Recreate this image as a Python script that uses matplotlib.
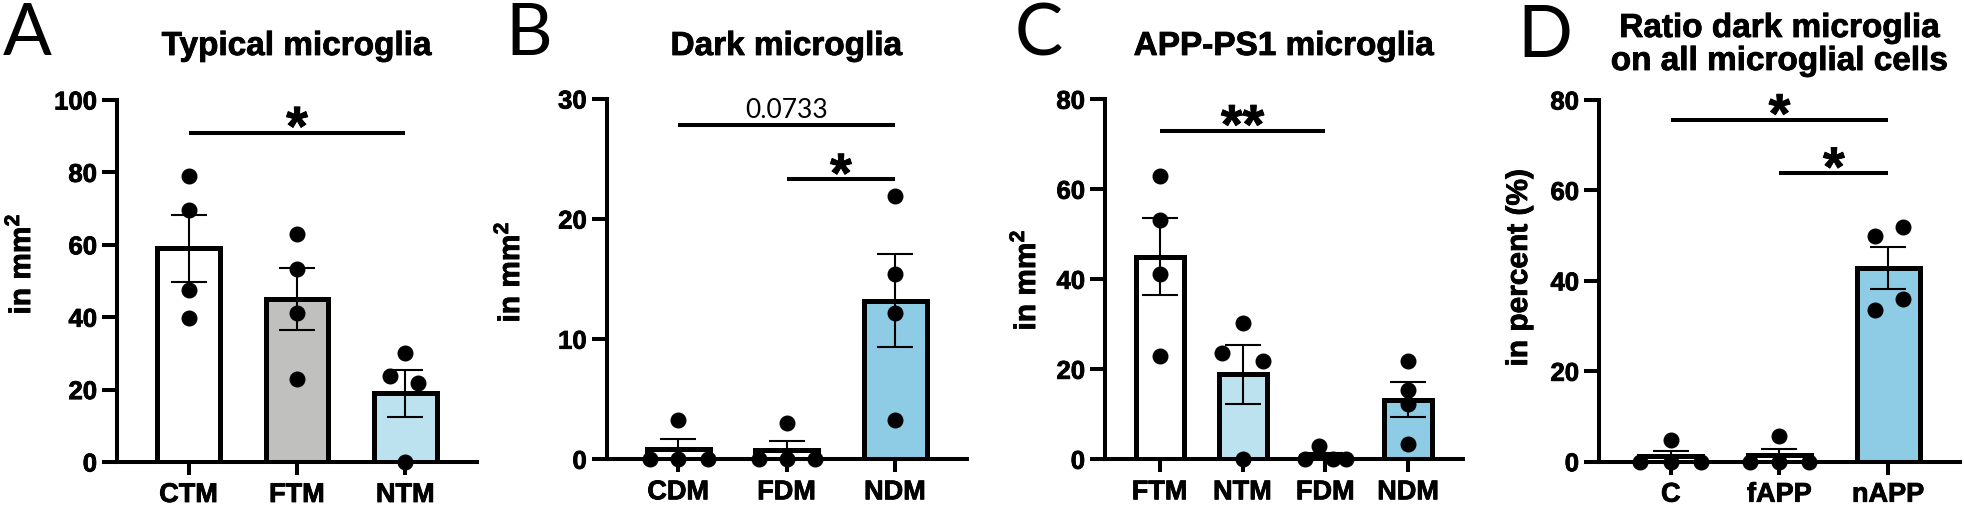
import matplotlib
matplotlib.use('Agg')
import matplotlib.pyplot as plt
import matplotlib.patheffects as pe
import numpy as np

plt.rcParams['font.family'] = ['Liberation Sans', 'DejaVu Sans']
plt.rcParams['font.weight'] = 'bold'
plt.rcParams['mathtext.fontset'] = 'custom'
plt.rcParams['mathtext.rm'] = 'Liberation Sans:bold'
plt.rcParams['mathtext.it'] = 'Liberation Sans:bold'
plt.rcParams['mathtext.bf'] = 'Liberation Sans:bold'

WHITE = '#ffffff'
GRAY = '#c0c0bf'
LIGHT = '#bce2f0'
BLUE = '#8ecbe4'

# slightly heavier bold text, closer to the original export
HEAVY = [pe.withStroke(linewidth=0.6, foreground='black')]

# A - typical microglia
a_groups = ['CTM', 'FTM', 'NTM']
a_values = [[79.1, 69.6, 47.6, 39.8], [62.9, 53.2, 41.2, 22.9], [30.2, 23.7, 21.8, 0.0]]
a_jitter = [[0, 0, 0, 0], [0, 0, 0, 0], [0, -0.14, 0.12, 0]]
a_colors = [WHITE, GRAY, LIGHT]
a_sig = [(0, 2, 91, '*')]

# B - dark microglia
b_groups = ['CDM', 'FDM', 'NDM']
b_values = [[3.3, 0.0, 0.0, 0.0], [3.05, 0.0, 0.0, 0.0], [21.9, 15.4, 12.2, 3.3]]
b_jitter = [[0, -0.26, 0, 0.27], [0, -0.26, 0, 0.26], [0, 0, 0, 0]]
b_colors = [WHITE, WHITE, BLUE]
b_sig = [(0, 2, 27.85, '0.0733'), (1, 2, 23.3, '*')]

# C - APP-PS1 microglia
c_groups = ['FTM', 'NTM', 'FDM', 'NDM']
c_values = [[62.9, 53.2, 41.2, 22.9], [30.2, 23.7, 21.8, 0.0],
            [3.0, 0.0, 0.0, 0.0], [21.9, 15.4, 12.2, 3.3]]
c_jitter = [[0, 0, 0, 0], [0, -0.25, 0.25, 0], [-0.08, -0.25, 0.09, 0.25], [0, 0, 0, 0]]
c_colors = [WHITE, LIGHT, WHITE, BLUE]
c_sig = [(0, 2, 73, '**')]

# D - ratio dark / all microglia
d_groups = ['C', 'fAPP', 'nAPP']
d_values = [[4.8, 0.0, 0.0, 0.0], [5.6, 0.0, 0.0, 0.0], [49.9, 51.9, 35.9, 33.6]]
d_jitter = [[0, -0.28, 0, 0.28], [0, -0.27, 0, 0.27], [-0.12, 0.14, 0.14, -0.12]]
d_colors = [WHITE, WHITE, BLUE]
d_sig = [(0, 2, 75.6, '*'), (1, 2, 63.8, '*')]

W, H = 1965, 508
fig = plt.figure(figsize=(W / 100, H / 100), dpi=100)


def make_axes(left, y0, right, ytop):
    return fig.add_axes([left / W, (H - y0) / H, (right - left) / W, (y0 - ytop) / H])


def draw_panel(ax, groups, values, jitter, colors, ymax, ystep, sigs):
    x = np.arange(len(groups))
    means = [np.mean(v) for v in values]
    sems = [np.std(v, ddof=1) / np.sqrt(len(v)) for v in values]
    ax.bar(x, means, width=0.58, color=colors, edgecolor='black', linewidth=3.6, zorder=2)
    ax.errorbar(x, means, yerr=sems, fmt='none', ecolor='black', elinewidth=1.5,
                capsize=13, capthick=1.5, zorder=3)
    for i, v in enumerate(values):
        ax.plot(i + np.array(jitter[i]), v, 'o', color='black', markersize=10.5,
                clip_on=False, zorder=4)
    for x1, x2, y, lab in sigs:
        ax.plot([x1, x2], [y, y], color='black', lw=2.9, solid_capstyle='butt', clip_on=False)
        if lab.startswith('*'):
            ax.annotate(lab, ((x1 + x2) / 2, y), xytext=(0, -9), textcoords='offset points',
                        ha='center', va='baseline', fontsize=40, fontweight='bold',
                        annotation_clip=False, path_effects=HEAVY)
        else:
            ax.annotate(lab, ((x1 + x2) / 2, y), xytext=(0, 5), textcoords='offset points',
                        ha='center', va='baseline', fontsize=19, fontweight='normal',
                        family='Lato', annotation_clip=False)
    ax.set_xlim(-0.66, len(groups) - 1 + 0.66)
    ax.set_ylim(0, ymax)
    ax.set_yticks(np.arange(0, ymax + 1, ystep))
    ax.set_xticks(x)
    ax.set_xticklabels(groups, fontsize=19.5, fontweight='bold')
    for t in ax.get_xticklabels() + ax.get_yticklabels():
        t.set_fontweight('bold')
        t.set_path_effects(HEAVY)
    for t in ax.get_yticklabels():
        t.set_fontsize(18.5)
    ax.spines['top'].set_visible(False)
    ax.spines['right'].set_visible(False)
    ax.spines['left'].set_linewidth(2.9)
    ax.spines['bottom'].set_linewidth(2.9)
    ax.tick_params(axis='y', length=10.8, width=2.9, pad=3.6)
    ax.tick_params(axis='x', length=9.4, width=2.9, pad=5)
    ax.patch.set_alpha(0)


axA = make_axes(117, 462, 477, 100)
axB = make_axes(606.7, 459.3, 966.7, 99)
axC = make_axes(1105, 459.3, 1463, 99.3)
axD = make_axes(1599, 461.7, 1960, 100)

draw_panel(axA, a_groups, a_values, a_jitter, a_colors, 100, 20, a_sig)
draw_panel(axB, b_groups, b_values, b_jitter, b_colors, 30, 10, b_sig)
draw_panel(axC, c_groups, c_values, c_jitter, c_colors, 80, 20, c_sig)
draw_panel(axD, d_groups, d_values, d_jitter, d_colors, 80, 20, d_sig)

# y labels
ylab_kw = dict(fontsize=21.5, fontweight='bold', rotation=90, ha='center', va='center',
               path_effects=HEAVY)
fig.text(21.5 / W, 1 - 264 / H, r'in mm$^2$', **ylab_kw)
fig.text(510.5 / W, 1 - 272 / H, r'in mm$^2$', **ylab_kw)
fig.text(1026.5 / W, 1 - 280 / H, r'in mm$^2$', **ylab_kw)
fig.text(1519 / W, 1 - 268 / H, 'in percent (%)', **ylab_kw)

# titles
title_kw = dict(fontsize=24, fontweight='bold', ha='center', va='baseline', path_effects=HEAVY)
fig.text(297 / W, 1 - 55 / H, 'Typical microglia', **title_kw)
fig.text(786.7 / W, 1 - 55 / H, 'Dark microglia', **title_kw)
fig.text(1284 / W, 1 - 55 / H, 'APP-PS1 microglia', **title_kw)
fig.text(1780 / W, 1 - 37 / H, 'Ratio dark microglia', **title_kw)
fig.text(1780 / W, 1 - 70 / H, 'on all microglial cells', **title_kw)

# panel letters
letter_kw = dict(fontsize=52, fontweight='normal', family='Lato', ha='left', va='baseline')
fig.text(3 / W, 1 - 55 / H, 'A', **letter_kw)
fig.text(505 / W, 1 - 55 / H, 'B', **letter_kw)
fig.text(1015 / W, 1 - 56 / H, 'C', **letter_kw)
fig.text(1517 / W, 1 - 57 / H, 'D', **letter_kw)

fig.savefig('out.png', dpi=100, facecolor='white')
